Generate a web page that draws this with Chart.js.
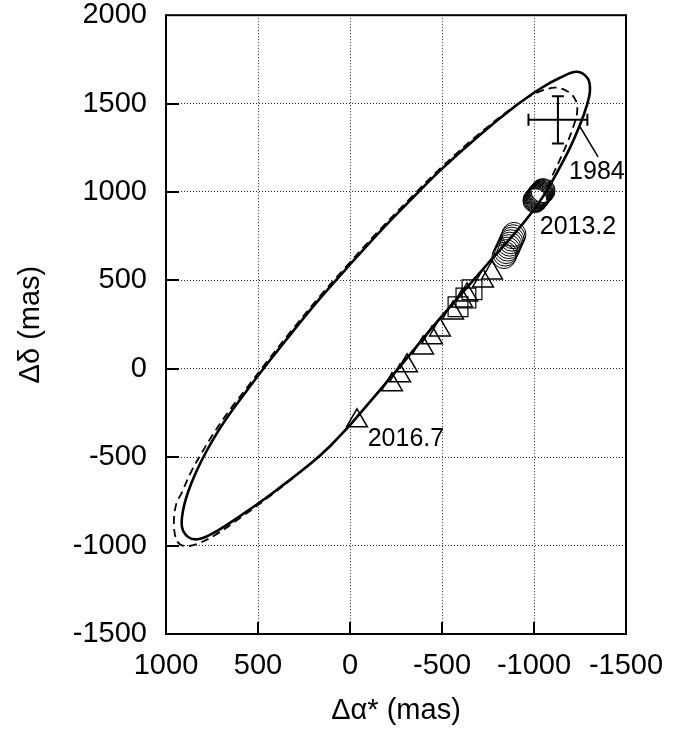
<!DOCTYPE html>
<html>
<head>
<meta charset="utf-8">
<script src="https://cdn.jsdelivr.net/npm/chart.js@4.4.3/dist/chart.umd.min.js"></script>
<style>
  html, body { margin: 0; padding: 0; background: #fff; }
  #orbit { display: block; }
</style>
</head>
<body>
<canvas id="orbit" width="692" height="729"></canvas>
<script>
// fitted orbit (solid), in mas
const orbitRA  = [0, 109, 217, 435, 598, 734, 821, 880, 913, 908, 880, 837, 783, 717, 636, 543, 435, 310, 163, 0, -163, -326, -489, -707, -908, -1033, -1141, -1234, -1293, -1304, -1288, -1250, -1196, -1125, -1049, -940, -745, -489, -272, 0];
const orbitDec = [-319, -438, -539, -714, -833, -924, -963, -951, -895, -805, -697, -585, -472, -353, -229, -99, 48, 212, 398, 590, 776, 951, 1121, 1324, 1493, 1584, 1646, 1680, 1640, 1572, 1493, 1380, 1251, 1110, 974, 821, 590, 285, 14, -319];

// alternative orbit (dashed)
const altRA  = [0, 109, 217, 435, 598, 734, 832, 902, 940, 957, 946, 913, 864, 804, 734, 651, 554, 446, 321, 174, 11, -152, -315, -478, -696, -905, -1016, -1114, -1185, -1228, -1234, -1212, -1179, -1136, -1092, -1049, -940, -745, -489, -272, 0];
const altDec = [-319, -438, -539, -720, -844, -941, -991, -1002, -974, -884, -771, -697, -584, -472, -353, -229, -99, 48, 212, 398, 590, 776, 951, 1121, 1324, 1493, 1562, 1590, 1567, 1516, 1448, 1364, 1274, 1172, 1076, 974, 821, 590, 285, 14, -319];

// 1984 measurement with error bars
const obs1984 = { ra: -1130, dec: 1408, raErr: 160, decErr: 133 };

// circles (two clusters)
const circRA  = [-1005, -1008, -1010, -1013, -1016, -1019, -1021, -1024, -1027, -1030, -1033, -1036, -1039, -1042, -1046, -1049,
                 -837, -843, -849, -856, -862, -868, -874, -880, -886, -891];
const circDec = [951, 955, 958, 962, 966, 970, 973, 977, 980, 984, 988, 991, 995, 999, 1004, 1008,
                 635, 649, 663, 677, 691, 705, 719, 733, 747, 760];

// squares
const sqRA  = [-663, -630, -587];
const sqDec = [447, 400, 351];

// triangles
const triRA  = [-772, -723, -636, -609, -560, -489, -446, -397, -310, -272, -228, -38];
const triDec = [542, 497, 418, 384, 316, 220, 175, 118, 17, -40, -90, -294];

// labels
const noteText = ["1984", "2013.2", "2016.7"];
const noteRA   = [-1342, -1239, -304];
const noteDec  = [1111, 800, -396];
const leaderRA  = [-1250, -1348];
const leaderDec = [1369, 1199];

const xTicks = [1000, 500, 0, -500, -1000, -1500];
const yTicks = [2000, 1500, 1000, 500, 0, -500, -1000, -1500];

const FONT = "'Liberation Sans', Arial, Helvetica, sans-serif";
Chart.defaults.font.family = FONT;
Chart.defaults.color = "#000";

function pts(xs, ys) {
  return xs.map((x, i) => ({ x: x, y: ys[i] }));
}

// frame, inward ticks and text labels
const framePlugin = {
  id: "frame",
  afterDatasetsDraw(chart) {
    const { ctx, chartArea: a, scales } = chart;
    const xs = scales.x, ys = scales.y;
    ctx.save();
    ctx.strokeStyle = "#000";
    ctx.lineWidth = 2;
    ctx.beginPath();
    yTicks.forEach((v) => {
      const p = Math.round(ys.getPixelForValue(v));
      if (p <= a.top + 1 || p >= a.bottom - 1) return;
      ctx.moveTo(a.left, p);
      ctx.lineTo(a.left + 13, p);
    });
    xTicks.forEach((v) => {
      const p = Math.round(xs.getPixelForValue(v));
      if (p <= a.left + 1 || p >= a.right - 1) return;
      ctx.moveTo(p, a.bottom);
      ctx.lineTo(p, a.bottom - 12);
    });
    ctx.stroke();
    ctx.strokeRect(a.left, a.top, a.right - a.left, a.bottom - a.top);

    ctx.fillStyle = "#000";
    ctx.font = "25px " + FONT;
    ctx.textAlign = "center";
    ctx.textBaseline = "middle";
    noteText.forEach((t, i) => {
      ctx.fillText(t, xs.getPixelForValue(noteRA[i]), ys.getPixelForValue(noteDec[i]));
    });
    ctx.restore();
  },
};

const lineDs = (data, extra) =>
  Object.assign(
    {
      data: data,
      showLine: true,
      borderColor: "#000",
      pointRadius: 0,
      fill: false,
    },
    extra
  );

const chart = new Chart(document.getElementById("orbit"), {
  type: "scatter",
  data: {
    datasets: [
      lineDs(pts(orbitRA, orbitDec), { borderWidth: 2.6, tension: 0.35, order: 1 }),
      lineDs(pts(altRA, altDec), { borderWidth: 1.8, borderDash: [8, 5], tension: 0.35, order: 2 }),
      lineDs(pts(leaderRA, leaderDec), { borderWidth: 1.5, order: 3 }),
      // error bars of 1984 point
      lineDs(
        [
          { x: obs1984.ra - obs1984.raErr, y: obs1984.dec },
          { x: obs1984.ra + obs1984.raErr, y: obs1984.dec },
        ],
        { borderWidth: 2, pointRadius: 6, pointStyle: "line", rotation: 90, pointBorderWidth: 2, order: 3 }
      ),
      lineDs(
        [
          { x: obs1984.ra, y: obs1984.dec - obs1984.decErr },
          { x: obs1984.ra, y: obs1984.dec + obs1984.decErr },
        ],
        { borderWidth: 2, pointRadius: 6, pointStyle: "line", rotation: 0, pointBorderWidth: 2, order: 3 }
      ),
      {
        data: pts(circRA, circDec),
        pointStyle: "circle",
        pointRadius: 12,
        borderColor: "#000",
        borderWidth: 1,
        backgroundColor: "rgba(0,0,0,0)",
        order: 4,
      },
      {
        data: pts(sqRA, sqDec),
        pointStyle: "rect",
        pointRadius: 14,
        borderColor: "#000",
        borderWidth: 1.2,
        backgroundColor: "rgba(0,0,0,0)",
        order: 4,
      },
      {
        data: pts(triRA, triDec),
        pointStyle: "triangle",
        pointRadius: 12,
        borderColor: "#000",
        borderWidth: 1.5,
        backgroundColor: "rgba(0,0,0,0)",
        order: 4,
      },
    ],
  },
  options: {
    responsive: false,
    animation: false,
    events: [],
    layout: { padding: { top: 14, right: 66, left: 0, bottom: 0 } },
    plugins: { legend: { display: false }, tooltip: { enabled: false } },
    scales: {
      x: {
        type: "linear",
        reverse: true,
        min: -1500,
        max: 1000,
        afterBuildTicks: (s) => { s.ticks = xTicks.map((v) => ({ value: v })); },
        afterFit: (s) => { s.height = 95; s.paddingLeft = 0; s.paddingRight = 0; },
        grid: { color: "#222", lineWidth: 1, drawTicks: false },
        border: { display: false, dash: [1, 2] },
        ticks: { padding: 15, font: { size: 29 }, callback: (v) => String(v) },
        title: { display: true, text: "Δα* (mas)", font: { size: 29 }, padding: { top: 0, bottom: 1 } },
      },
      y: {
        type: "linear",
        min: -1500,
        max: 2000,
        afterBuildTicks: (s) => { s.ticks = yTicks.map((v) => ({ value: v })); },
        afterFit: (s) => { s.width = 166; s.paddingTop = 0; s.paddingBottom = 0; },
        grid: { color: "#222", lineWidth: 1, drawTicks: false },
        border: { display: false, dash: [1, 2] },
        ticks: { padding: 19, font: { size: 29 }, callback: (v) => String(v) },
        title: { display: true, text: "Δδ (mas)", font: { size: 29 }, padding: { top: 14, bottom: 0 } },
      },
    },
  },
  plugins: [framePlugin],
});
</script>
</body>
</html>
